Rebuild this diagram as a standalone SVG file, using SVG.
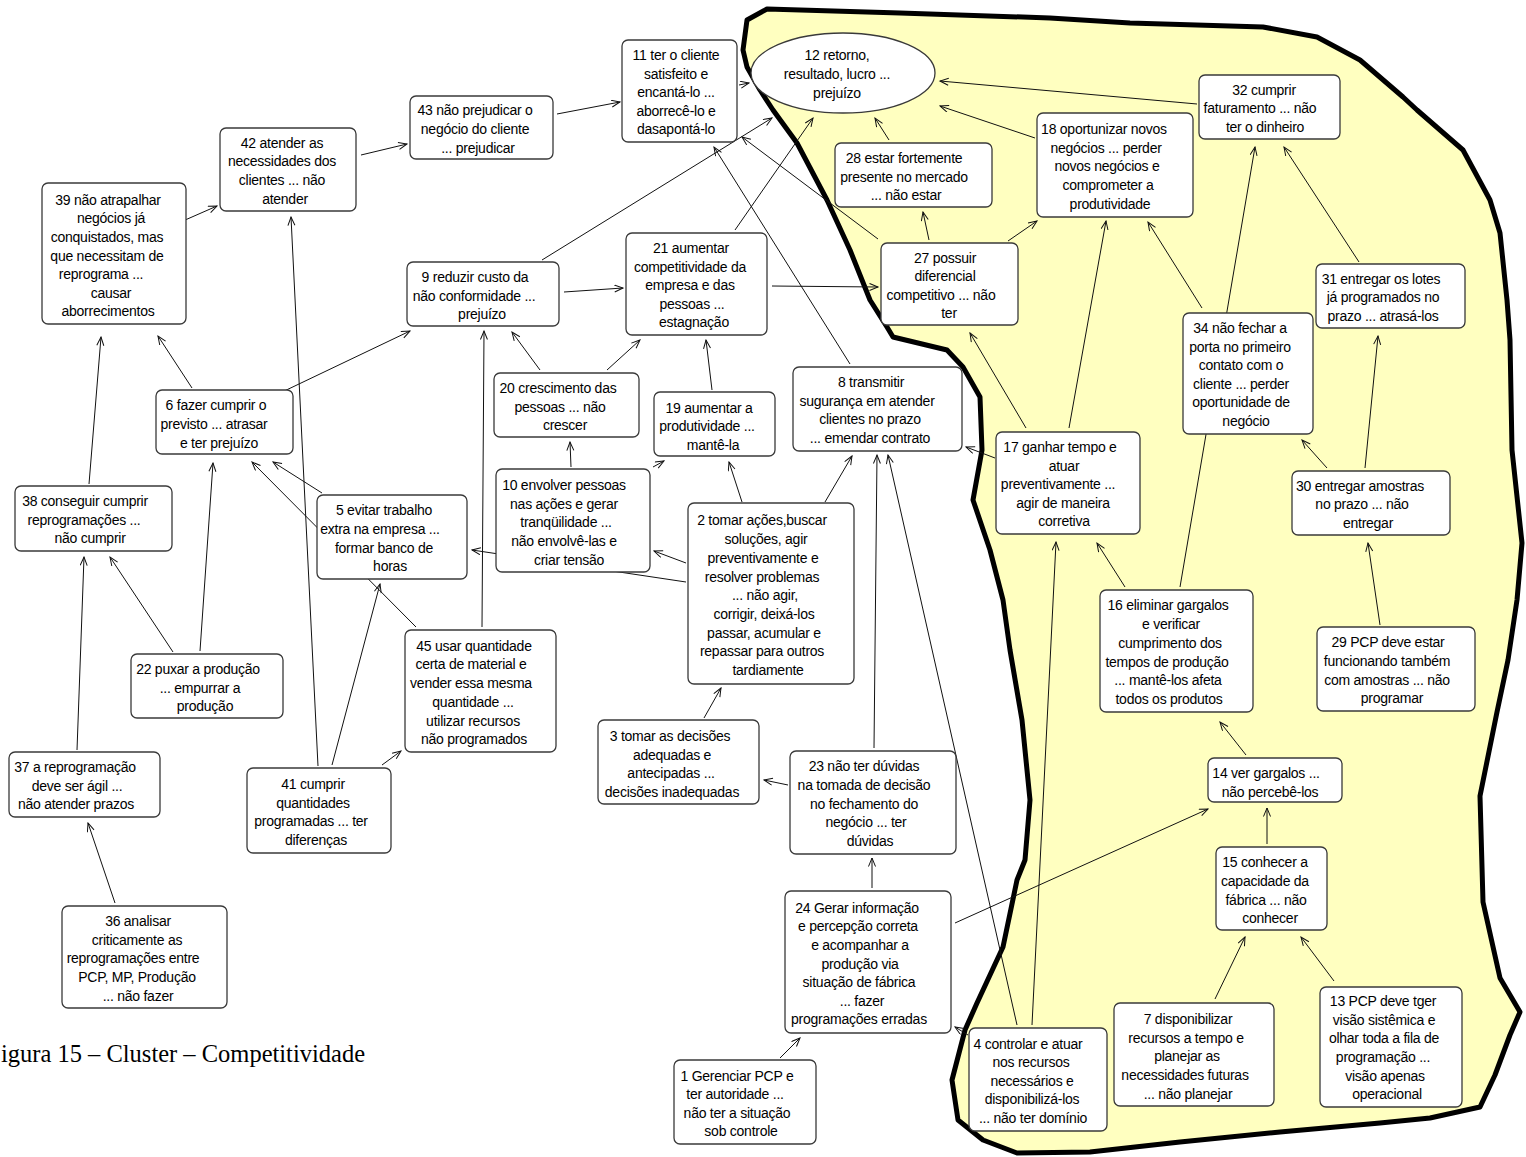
<svg xmlns="http://www.w3.org/2000/svg" width="1526" height="1157" viewBox="0 0 1526 1157">
  <defs>
    <marker id="arr" markerWidth="11" markerHeight="9" refX="9.5" refY="4" orient="auto" markerUnits="userSpaceOnUse">
      <path d="M1,0.5 L9.5,4 L1,7.5" fill="none" stroke="#111" stroke-width="1"/>
    </marker>
    <style>
      .box { fill: #ffffff; stroke: #3a3a3a; stroke-width: 1.3; }
      .t { font-family: "Liberation Sans", Arial, sans-serif; font-size: 14px; letter-spacing: -0.25px; text-anchor: middle; fill: #000; }
      .c line { stroke: #111; stroke-width: 1; marker-end: url(#arr); }
      .cap { font-family: "Liberation Serif", "Times New Roman", serif; font-size: 24.5px; fill: #000; }
    </style>
  </defs>

  <rect width="1526" height="1157" fill="#ffffff"/>

  <!-- cluster boundary -->
  <path id="cluster" d="M767,9 L900,13 L1050,18 L1130,23 L1263,27 L1317,37 L1360,60 L1403,97 L1417,110 L1463,150 L1490,200 L1500,233 L1507,300 L1510,340 L1512,450 L1522,543 L1517,600 L1508,660 L1497,712 L1480,796 L1483,902 L1500,978 L1520,1012 L1510,1035 L1495,1075 L1480,1107 L1430,1118 L1380,1123 L1280,1132 L1180,1142 L1090,1152 L1017,1153 L983,1140 L958,1120 L952,1080 L965,1030 L977,1003 L1003,947 L1017,880 L1025,860 L1030,800 L1022,720 L1010,650 L1003,600 L990,550 L973,500 L982,450 L980,397 L963,367 L947,350 L893,337 L887,327 L870,300 L850,250 L827,200 L797,143 L773,110 L760,90 L747,67 L743,50 L747,20 Z" fill="#ffffc0" stroke="#000" stroke-width="5" stroke-linejoin="round"/>

  <!-- connectors -->
  <g id="connectors" class="c">
    <line x1="176" y1="224" x2="217" y2="206"/>
    <line x1="361" y1="155" x2="407" y2="144"/>
    <line x1="557" y1="114" x2="620" y2="102"/>
    <line x1="739" y1="85" x2="749" y2="83"/>
    <line x1="542" y1="260" x2="772" y2="118"/>
    <line x1="735" y1="230" x2="813" y2="118"/>
    <line x1="878" y1="239" x2="742" y2="137"/>
    <line x1="850" y1="364" x2="714" y2="147"/>
    <line x1="889" y1="140" x2="875" y2="118"/>
    <line x1="1035" y1="138" x2="940" y2="106"/>
    <line x1="1197" y1="104" x2="940" y2="81"/>
    <line x1="929" y1="240" x2="923" y2="212"/>
    <line x1="1008" y1="241" x2="1037" y2="221"/>
    <line x1="772" y1="286" x2="878" y2="287"/>
    <line x1="564" y1="292" x2="623" y2="288"/>
    <line x1="278" y1="394" x2="410" y2="331"/>
    <line x1="192" y1="388" x2="158" y2="336"/>
    <line x1="89" y1="484" x2="101" y2="337"/>
    <line x1="318" y1="766" x2="291" y2="217"/>
    <line x1="173" y1="652" x2="110" y2="557"/>
    <line x1="200" y1="651" x2="213" y2="463"/>
    <line x1="77" y1="750" x2="84" y2="557"/>
    <line x1="115" y1="903" x2="88" y2="823"/>
    <line x1="322" y1="493" x2="273" y2="462"/>
    <line x1="416" y1="627" x2="252" y2="462"/>
    <line x1="332" y1="765" x2="380" y2="584"/>
    <line x1="382" y1="765" x2="401" y2="751"/>
    <line x1="482" y1="627" x2="484" y2="331"/>
    <line x1="540" y1="370" x2="512" y2="332"/>
    <line x1="607" y1="370" x2="640" y2="340"/>
    <line x1="712" y1="390" x2="706" y2="340"/>
    <line x1="571" y1="467" x2="570" y2="442"/>
    <line x1="653" y1="467" x2="664" y2="461"/>
    <line x1="742" y1="502" x2="729" y2="462"/>
    <line x1="686" y1="563" x2="654" y2="551"/>
    <line x1="686" y1="582" x2="472" y2="550"/>
    <line x1="825" y1="502" x2="852" y2="456"/>
    <line x1="704" y1="718" x2="721" y2="688"/>
    <line x1="874" y1="748" x2="877" y2="455"/>
    <line x1="1017" y1="1025" x2="888" y2="455"/>
    <line x1="1032" y1="1025" x2="1056" y2="542"/>
    <line x1="995" y1="458" x2="966" y2="447"/>
    <line x1="1026" y1="428" x2="970" y2="333"/>
    <line x1="1069" y1="428" x2="1106" y2="221"/>
    <line x1="1125" y1="587" x2="1097" y2="543"/>
    <line x1="1180" y1="587" x2="1255" y2="147"/>
    <line x1="1202" y1="308" x2="1148" y2="222"/>
    <line x1="1359" y1="262" x2="1284" y2="147"/>
    <line x1="1327" y1="468" x2="1302" y2="440"/>
    <line x1="1365" y1="468" x2="1378" y2="336"/>
    <line x1="1380" y1="625" x2="1368" y2="543"/>
    <line x1="1246" y1="755" x2="1220" y2="722"/>
    <line x1="1267" y1="844" x2="1267" y2="808"/>
    <line x1="955" y1="923" x2="1208" y2="809"/>
    <line x1="1215" y1="999" x2="1245" y2="937"/>
    <line x1="1334" y1="981" x2="1301" y2="937"/>
    <line x1="788" y1="785" x2="764" y2="780"/>
    <line x1="872" y1="888" x2="872" y2="858"/>
    <line x1="780" y1="1058" x2="800" y2="1038"/>
    <line x1="968" y1="1035" x2="955" y2="1027"/>
  </g>

  <!-- nodes -->
  <g id="n11"><rect class="box" x="622" y="40" width="115" height="102" rx="6"/>
    <text class="t"><tspan x="676" y="60">11 ter o cliente</tspan><tspan x="676" y="79">satisfeito e</tspan><tspan x="676" y="97">encantá-lo ...</tspan><tspan x="676" y="116">aborrecê-lo e</tspan><tspan x="676" y="134">dasapontá-lo</tspan></text></g>

  <g id="n12"><ellipse class="box" cx="843" cy="73" rx="92" ry="40"/>
    <text class="t"><tspan x="837" y="60">12 retorno,</tspan><tspan x="837" y="79">resultado, lucro ...</tspan><tspan x="837" y="98">prejuízo</tspan></text></g>

  <g id="n43"><rect class="box" x="410" y="96" width="143" height="63" rx="6"/>
    <text class="t"><tspan x="475" y="115">43 não prejudicar o</tspan><tspan x="475" y="134">negócio do cliente</tspan><tspan x="478" y="153">... prejudicar</tspan></text></g>

  <g id="n42"><rect class="box" x="220" y="128" width="136" height="83" rx="6"/>
    <text class="t"><tspan x="282" y="148">42 atender as</tspan><tspan x="282" y="166">necessidades dos</tspan><tspan x="282" y="185">clientes ... não</tspan><tspan x="285" y="204">atender</tspan></text></g>

  <g id="n39"><rect class="box" x="42" y="183" width="144" height="141" rx="6"/>
    <text class="t"><tspan x="108" y="205">39 não atrapalhar</tspan><tspan x="111" y="223">negócios já</tspan><tspan x="107" y="242">conquistados, mas</tspan><tspan x="107" y="261">que necessitam de</tspan><tspan x="101" y="279">reprograma ...</tspan><tspan x="111" y="298">causar</tspan><tspan x="108" y="316">aborrecimentos</tspan></text></g>

  <g id="n9"><rect class="box" x="407" y="262" width="152" height="64" rx="6"/>
    <text class="t"><tspan x="475" y="282">9 reduzir custo da</tspan><tspan x="474" y="301">não conformidade ...</tspan><tspan x="482" y="319">prejuízo</tspan></text></g>

  <g id="n21"><rect class="box" x="626" y="233" width="141" height="102" rx="6"/>
    <text class="t"><tspan x="691" y="253">21 aumentar</tspan><tspan x="690" y="272">competitividade da</tspan><tspan x="690" y="290">empresa e das</tspan><tspan x="692" y="309">pessoas ...</tspan><tspan x="694" y="327">estagnação</tspan></text></g>

  <g id="n28"><rect class="box" x="835" y="143" width="157" height="64" rx="6"/>
    <text class="t"><tspan x="904" y="163">28 estar fortemente</tspan><tspan x="904" y="182">presente no mercado</tspan><tspan x="906" y="200">... não estar</tspan></text></g>

  <g id="n27"><rect class="box" x="881" y="243" width="137" height="82" rx="6"/>
    <text class="t"><tspan x="945" y="263">27 possuir</tspan><tspan x="945" y="281">diferencial</tspan><tspan x="941" y="300">competitivo ... não</tspan><tspan x="949" y="318">ter</tspan></text></g>

  <g id="n18"><rect class="box" x="1037" y="113" width="156" height="104" rx="6"/>
    <text class="t"><tspan x="1104" y="134">18 oportunizar novos</tspan><tspan x="1106" y="153">negócios ... perder</tspan><tspan x="1107" y="171">novos negócios e</tspan><tspan x="1108" y="190">comprometer a</tspan><tspan x="1110" y="209">produtividade</tspan></text></g>

  <g id="n32"><rect class="box" x="1199" y="75" width="141" height="64" rx="6"/>
    <text class="t"><tspan x="1264" y="95">32 cumprir</tspan><tspan x="1260" y="113">faturamento ... não</tspan><tspan x="1265" y="132">ter o dinheiro</tspan></text></g>

  <g id="n31"><rect class="box" x="1316" y="264" width="149" height="64" rx="6"/>
    <text class="t"><tspan x="1381" y="284">31 entregar os lotes</tspan><tspan x="1383" y="302">já programados no</tspan><tspan x="1383" y="321">prazo ... atrasá-los</tspan></text></g>

  <g id="n34"><rect class="box" x="1183" y="313" width="130" height="121" rx="6"/>
    <text class="t"><tspan x="1240" y="333">34 não fechar a</tspan><tspan x="1240" y="352">porta no primeiro</tspan><tspan x="1241" y="370">contato com o</tspan><tspan x="1241" y="389">cliente ... perder</tspan><tspan x="1241" y="407">oportunidade de</tspan><tspan x="1246" y="426">negócio</tspan></text></g>

  <g id="n6"><rect class="box" x="156" y="390" width="137" height="64" rx="6"/>
    <text class="t"><tspan x="216" y="410">6 fazer cumprir o</tspan><tspan x="214" y="429">previsto ... atrasar</tspan><tspan x="219" y="448">e ter prejuízo</tspan></text></g>

  <g id="n20"><rect class="box" x="494" y="373" width="145" height="64" rx="6"/>
    <text class="t"><tspan x="558" y="393">20 crescimento das</tspan><tspan x="560" y="412">pessoas ... não</tspan><tspan x="565" y="430">crescer</tspan></text></g>

  <g id="n19"><rect class="box" x="654" y="392" width="121" height="64" rx="6"/>
    <text class="t"><tspan x="709" y="413">19 aumentar a</tspan><tspan x="707" y="431">produtividade ...</tspan><tspan x="713" y="450">mantê-la</tspan></text></g>

  <g id="n8"><rect class="box" x="793" y="367" width="169" height="84" rx="6"/>
    <text class="t"><tspan x="871" y="387">8 transmitir</tspan><tspan x="867" y="406">sugurança em atender</tspan><tspan x="870" y="424">clientes no prazo</tspan><tspan x="870" y="443">... emendar contrato</tspan></text></g>

  <g id="n17"><rect class="box" x="996" y="432" width="144" height="102" rx="6"/>
    <text class="t"><tspan x="1060" y="452">17 ganhar tempo e</tspan><tspan x="1064" y="471">atuar</tspan><tspan x="1058" y="489">preventivamente ...</tspan><tspan x="1063" y="508">agir de maneira</tspan><tspan x="1064" y="526">corretiva</tspan></text></g>

  <g id="n30"><rect class="box" x="1292" y="471" width="158" height="64" rx="6"/>
    <text class="t"><tspan x="1360" y="491">30 entregar amostras</tspan><tspan x="1362" y="509">no prazo ... não</tspan><tspan x="1368" y="528">entregar</tspan></text></g>

  <g id="n38"><rect class="box" x="15" y="486" width="157" height="65" rx="6"/>
    <text class="t"><tspan x="85" y="506">38 conseguir cumprir</tspan><tspan x="84" y="525">reprogramações ...</tspan><tspan x="90" y="543">não cumprir</tspan></text></g>

  <g id="n5"><rect class="box" x="317" y="495" width="150" height="84" rx="6"/>
    <text class="t"><tspan x="384" y="515">5 evitar trabalho</tspan><tspan x="380" y="534">extra na empresa ...</tspan><tspan x="384" y="553">formar banco de</tspan><tspan x="390" y="571">horas</tspan></text></g>

  <g id="n10"><rect class="box" x="496" y="469" width="154" height="103" rx="6"/>
    <text class="t"><tspan x="564" y="490">10 envolver pessoas</tspan><tspan x="564" y="509">nas ações e gerar</tspan><tspan x="566" y="527">tranqüilidade ...</tspan><tspan x="564" y="546">não envolvê-las e</tspan><tspan x="569" y="565">criar tensão</tspan></text></g>

  <g id="n2"><rect class="box" x="688" y="503" width="166" height="181" rx="6"/>
    <text class="t"><tspan x="762" y="525">2 tomar ações,buscar</tspan><tspan x="766" y="544">soluções, agir</tspan><tspan x="763" y="563">preventivamente e</tspan><tspan x="762" y="582">resolver problemas</tspan><tspan x="765" y="600">... não agir,</tspan><tspan x="764" y="619">corrigir, deixá-los</tspan><tspan x="764" y="638">passar, acumular e</tspan><tspan x="762" y="656">repassar para outros</tspan><tspan x="768" y="675">tardiamente</tspan></text></g>

  <g id="n16"><rect class="box" x="1100" y="590" width="153" height="122" rx="6"/>
    <text class="t"><tspan x="1168" y="610">16 eliminar gargalos</tspan><tspan x="1171" y="629">e verificar</tspan><tspan x="1170" y="648">cumprimento dos</tspan><tspan x="1167" y="667">tempos de produção</tspan><tspan x="1168" y="685">... mantê-los afeta</tspan><tspan x="1169" y="704">todos os produtos</tspan></text></g>

  <g id="n29"><rect class="box" x="1317" y="627" width="158" height="84" rx="6"/>
    <text class="t"><tspan x="1388" y="647">29 PCP deve estar</tspan><tspan x="1387" y="666">funcionando também</tspan><tspan x="1387" y="685">com amostras ... não</tspan><tspan x="1392" y="703">programar</tspan></text></g>

  <g id="n22"><rect class="box" x="131" y="654" width="152" height="64" rx="6"/>
    <text class="t"><tspan x="198" y="674">22 puxar a produção</tspan><tspan x="200" y="693">... empurrar a</tspan><tspan x="205" y="711">produção</tspan></text></g>

  <g id="n45"><rect class="box" x="405" y="630" width="151" height="122" rx="6"/>
    <text class="t"><tspan x="474" y="651">45 usar quantidade</tspan><tspan x="471" y="669">certa de material e</tspan><tspan x="471" y="688">vender essa mesma</tspan><tspan x="473" y="707">quantidade ...</tspan><tspan x="473" y="726">utilizar recursos</tspan><tspan x="474" y="744">não programados</tspan></text></g>

  <g id="n3"><rect class="box" x="598" y="720" width="161" height="84" rx="6"/>
    <text class="t"><tspan x="670" y="741">3 tomar as decisões</tspan><tspan x="672" y="760">adequadas e</tspan><tspan x="671" y="778">antecipadas ...</tspan><tspan x="672" y="797">decisões inadequadas</tspan></text></g>

  <g id="n23"><rect class="box" x="790" y="751" width="166" height="103" rx="6"/>
    <text class="t"><tspan x="864" y="771">23 não ter dúvidas</tspan><tspan x="864" y="790">na tomada de decisão</tspan><tspan x="864" y="809">no fechamento do</tspan><tspan x="866" y="827">negócio ... ter</tspan><tspan x="870" y="846">dúvidas</tspan></text></g>

  <g id="n14"><rect class="box" x="1208" y="758" width="134" height="44" rx="6"/>
    <text class="t"><tspan x="1266" y="778">14 ver gargalos ...</tspan><tspan x="1270" y="797">não percebê-los</tspan></text></g>

  <g id="n37"><rect class="box" x="9" y="752" width="151" height="65" rx="6"/>
    <text class="t"><tspan x="75" y="772">37 a reprogramação</tspan><tspan x="77" y="791">deve ser ágil ...</tspan><tspan x="76" y="809">não atender prazos</tspan></text></g>

  <g id="n41"><rect class="box" x="247" y="768" width="144" height="85" rx="6"/>
    <text class="t"><tspan x="313" y="789">41 cumprir</tspan><tspan x="313" y="808">quantidades</tspan><tspan x="311" y="826">programadas ... ter</tspan><tspan x="316" y="845">diferenças</tspan></text></g>

  <g id="n15"><rect class="box" x="1216" y="847" width="111" height="83" rx="6"/>
    <text class="t"><tspan x="1265" y="867">15 conhecer a</tspan><tspan x="1265" y="886">capacidade da</tspan><tspan x="1266" y="905">fábrica ... não</tspan><tspan x="1270" y="923">conhecer</tspan></text></g>

  <g id="n24"><rect class="box" x="785" y="891" width="166" height="142" rx="6"/>
    <text class="t"><tspan x="857" y="913">24 Gerar informação</tspan><tspan x="858" y="931">e percepção correta</tspan><tspan x="860" y="950">e acompanhar a</tspan><tspan x="860" y="969">produção via</tspan><tspan x="859" y="987">situação de fábrica</tspan><tspan x="862" y="1006">... fazer</tspan><tspan x="859" y="1024">programações erradas</tspan></text></g>

  <g id="n36"><rect class="box" x="62" y="906" width="165" height="102" rx="6"/>
    <text class="t"><tspan x="138" y="926">36 analisar</tspan><tspan x="137" y="945">criticamente as</tspan><tspan x="133" y="963">reprogramações entre</tspan><tspan x="137" y="982">PCP, MP, Produção</tspan><tspan x="138" y="1001">... não fazer</tspan></text></g>

  <g id="n1"><rect class="box" x="674" y="1060" width="142" height="84" rx="6"/>
    <text class="t"><tspan x="737" y="1081">1 Gerenciar PCP e</tspan><tspan x="735" y="1099">ter autoridade ...</tspan><tspan x="737" y="1118">não ter a situação</tspan><tspan x="741" y="1136">sob controle</tspan></text></g>

  <g id="n4"><rect class="box" x="969" y="1028" width="138" height="103" rx="6"/>
    <text class="t"><tspan x="1028" y="1049">4 controlar e atuar</tspan><tspan x="1031" y="1067">nos recursos</tspan><tspan x="1032" y="1086">necessários e</tspan><tspan x="1032" y="1104">disponibilizá-los</tspan><tspan x="1033" y="1123">... não ter domínio</tspan></text></g>

  <g id="n7"><rect class="box" x="1114" y="1003" width="160" height="103" rx="6"/>
    <text class="t"><tspan x="1188" y="1024">7 disponibilizar</tspan><tspan x="1186" y="1043">recursos a tempo e</tspan><tspan x="1187" y="1061">planejar as</tspan><tspan x="1185" y="1080">necessidades futuras</tspan><tspan x="1188" y="1099">... não planejar</tspan></text></g>

  <g id="n13"><rect class="box" x="1320" y="987" width="142" height="120" rx="6"/>
    <text class="t"><tspan x="1383" y="1006">13 PCP deve tger</tspan><tspan x="1384" y="1025">visão sistêmica e</tspan><tspan x="1384" y="1043">olhar toda a fila de</tspan><tspan x="1383" y="1062">programação ...</tspan><tspan x="1385" y="1081">visão apenas</tspan><tspan x="1387" y="1099">operacional</tspan></text></g>

  <!-- caption -->
  <text class="cap" x="1" y="1062">igura 15 – Cluster – Competitividade</text>
</svg>
